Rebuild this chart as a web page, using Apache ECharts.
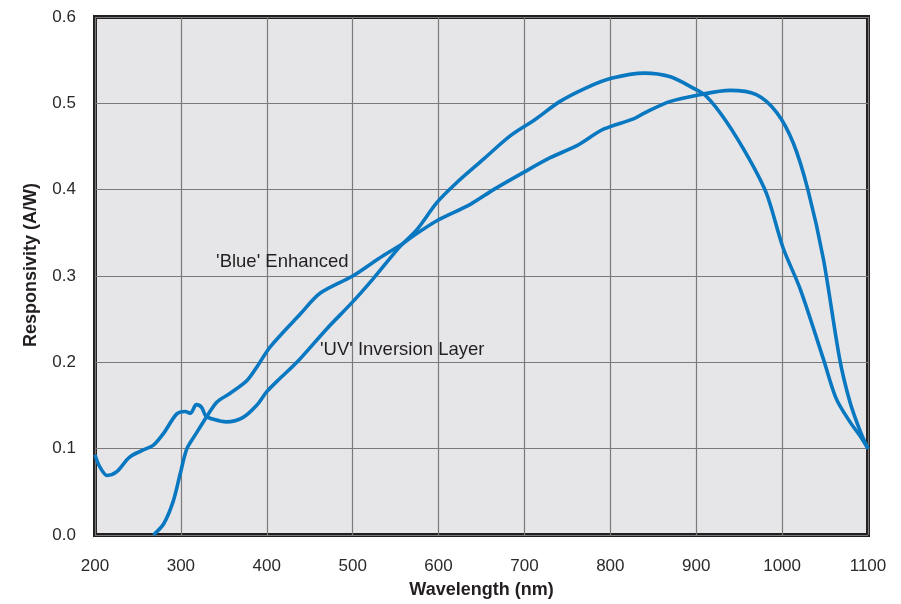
<!DOCTYPE html>
<html>
<head>
<meta charset="utf-8">
<script src="https://cdn.jsdelivr.net/npm/echarts@6/dist/echarts.min.js"></script>
<style>
html,body{margin:0;padding:0;background:#fff;}
#chart{width:901px;height:604px;}
</style>
</head>
<body>
<div id="chart"></div>
<script>
// Wavelength (nm) and responsivity (A/W)
const uvWavelength = [200, 205, 214, 225, 240, 255, 268, 280, 295, 305, 311, 318, 324, 329, 338, 353, 372, 388, 400, 415, 435, 470, 500, 524, 555, 575, 598, 621, 652, 683, 712, 741, 772, 801, 840, 869, 896, 912, 935, 962, 982, 1001, 1021, 1048, 1063, 1079, 1092, 1100];
const uvResponse   = [0.093, 0.080, 0.069, 0.073, 0.090, 0.098, 0.104, 0.118, 0.140, 0.143, 0.141, 0.151, 0.148, 0.138, 0.134, 0.131, 0.136, 0.150, 0.166, 0.181, 0.200, 0.239, 0.270, 0.297, 0.334, 0.354, 0.385, 0.408, 0.435, 0.462, 0.481, 0.502, 0.518, 0.529, 0.535, 0.531, 0.518, 0.508, 0.479, 0.435, 0.395, 0.333, 0.285, 0.204, 0.158, 0.131, 0.113, 0.100];

const blueWavelength = [268, 280, 291, 299, 307, 318, 330, 342, 357, 377, 390, 404, 439, 462, 500, 530, 559, 570, 598, 637, 664, 699, 730, 761, 792, 827, 840, 869, 904, 939, 970, 994, 1013, 1030, 1048, 1067, 1079, 1091, 1100];
const blueResponse   = [0.000, 0.013, 0.039, 0.070, 0.100, 0.118, 0.137, 0.154, 0.164, 0.179, 0.197, 0.218, 0.256, 0.280, 0.300, 0.320, 0.338, 0.346, 0.364, 0.383, 0.400, 0.420, 0.437, 0.451, 0.470, 0.482, 0.489, 0.502, 0.510, 0.515, 0.510, 0.489, 0.454, 0.400, 0.320, 0.204, 0.154, 0.120, 0.100];

const xTicks = [200, 300, 400, 500, 600, 700, 800, 900, 1000, 1100];
const yTicks = [0.0, 0.1, 0.2, 0.3, 0.4, 0.5, 0.6];

const labelBlue = {text: "'Blue' Enhanced", x: 341, y: 0.316};
const labelUV = {text: "'UV' Inversion Layer", x: 462, y: 0.214};

const pairs = (xs, ys) => xs.map((x, i) => [x, ys[i]]);
const FONT = "'Liberation Sans', Arial, Helvetica, sans-serif";
const LINE = '#0a78c0';

const chart = echarts.init(document.getElementById('chart'), null, {renderer: 'canvas'});
chart.setOption({
  animation: false,
  backgroundColor: '#ffffff',
  textStyle: {fontFamily: FONT},
  grid: {
    left: 95, right: 33, top: 17, bottom: 67,
    show: true, backgroundColor: '#e6e6e9', borderColor: '#231f20', borderWidth: 4,
    containLabel: false
  },
  xAxis: {
    type: 'value', min: xTicks[0], max: xTicks[xTicks.length - 1], interval: 100,
    name: 'Wavelength (nm)', nameLocation: 'middle', nameGap: 46,
    nameTextStyle: {fontSize: 18, fontWeight: 'bold', color: '#231f20', fontFamily: FONT},
    axisLine: {show: false}, axisTick: {show: false},
    axisLabel: {margin: 23, fontSize: 17, color: '#2a2a2a', fontFamily: FONT, formatter: v => String(v)},
    splitLine: {show: true, lineStyle: {color: '#7a7a7a', width: 1.2}}
  },
  yAxis: {
    type: 'value', min: yTicks[0], max: yTicks[yTicks.length - 1], interval: 0.1,
    name: 'Responsivity (A/W)', nameLocation: 'middle', nameGap: 55, nameRotate: 90,
    nameTextStyle: {fontSize: 18, fontWeight: 'bold', color: '#231f20', fontFamily: FONT, padding: [0, 0, 0, 22]},
    axisLine: {show: false}, axisTick: {show: false},
    axisLabel: {margin: 19, fontSize: 17, color: '#2a2a2a', fontFamily: FONT,
      formatter: v => v.toFixed(1)},
    splitLine: {show: true, lineStyle: {color: '#7a7a7a', width: 1.2}}
  },
  series: [
    {
      name: "'UV' Inversion Layer", type: 'line', data: pairs(uvWavelength, uvResponse),
      smooth: 0.3, showSymbol: false, clip: true,
      lineStyle: {color: LINE, width: 3.6}, z: 3
    },
    {
      name: "'Blue' Enhanced", type: 'line', data: pairs(blueWavelength, blueResponse),
      smooth: 0.3, showSymbol: false, clip: true,
      lineStyle: {color: LINE, width: 3.6}, z: 3
    }
  ]
});

function addLabels() {
  const items = [labelBlue, labelUV].map(l => {
    const p = chart.convertToPixel({gridIndex: 0}, [l.x, l.y]);
    return {
      type: 'text', x: p[0], y: p[1], z: 10,
      style: {text: l.text, fill: '#231f20', font: '18.5px ' + FONT, verticalAlign: 'middle', align: 'left'}
    };
  });
  chart.setOption({graphic: items});
}
addLabels();
</script>
</body>
</html>
